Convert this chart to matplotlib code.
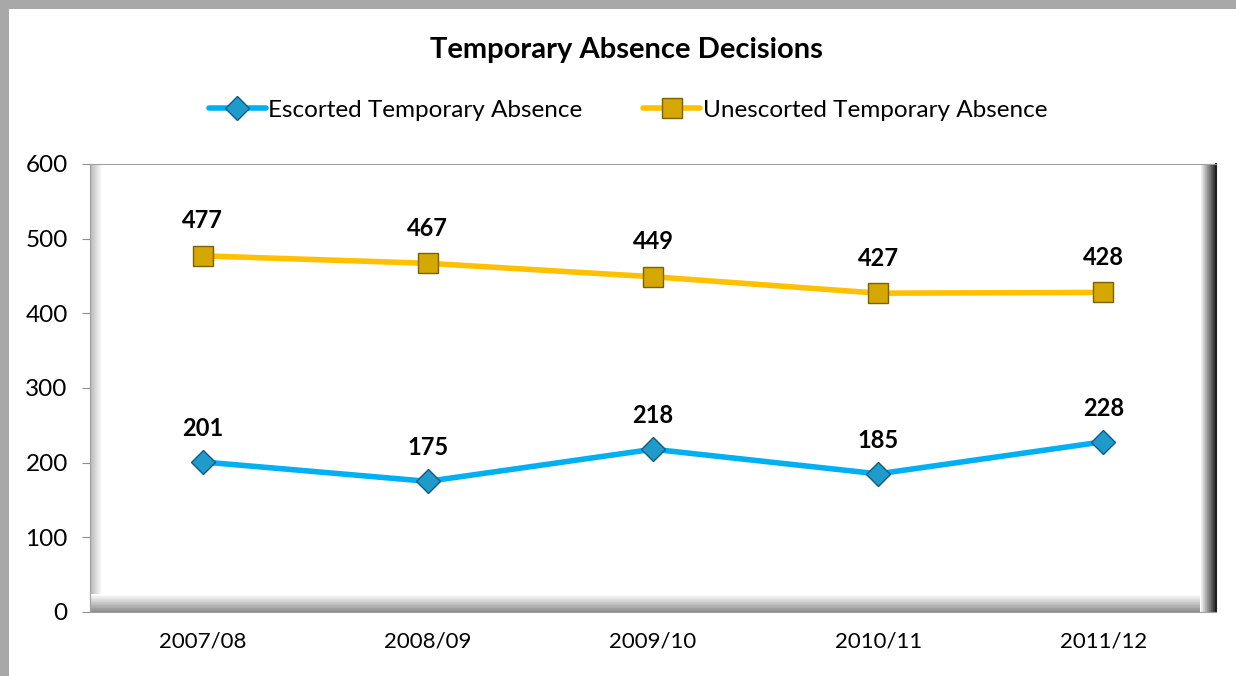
import numpy as np
import matplotlib
matplotlib.use('Agg')
import matplotlib.pyplot as plt
from matplotlib.patches import Rectangle

plt.rcParams['font.family'] = ['Lato', 'DejaVu Sans']

years = ['2007/08', '2008/09', '2009/10', '2010/11', '2011/12']
escorted = [201, 175, 218, 185, 228]
unescorted = [477, 467, 449, 427, 428]
y_ticks = [0, 100, 200, 300, 400, 500, 600]

W, H = 1236, 676


def px_box(left, top, right, bottom):
    # pixel box -> figure fraction [l, b, w, h]
    return [left / W, 1 - bottom / H, (right - left) / W, (bottom - top) / H]


def bevel(ax, x0, y0, x1, y1, c_from, c_to, horizontal=True, n=24):
    # strip of thin rectangles in axes coords, grey level c_from -> c_to
    for i in range(n):
        c = c_from + (c_to - c_from) * i / (n - 1)
        if horizontal:
            w = (x1 - x0) / n
            r = Rectangle((x0 + i * w, y0), w * 1.05, y1 - y0)
        else:
            h = (y1 - y0) / n
            r = Rectangle((x0, y0 + i * h), x1 - x0, h * 1.05)
        r.set_transform(ax.transAxes)
        r.set_facecolor((c, c, c))
        r.set_edgecolor('none')
        r.set_zorder(0.5)
        ax.add_patch(r)


fig = plt.figure(figsize=(W / 100, H / 100), dpi=100)
fig.patch.set_facecolor('white')

# outer chart frame (left and top)
fig.patches.append(Rectangle((0, 0), 9 / W, 1, transform=fig.transFigure,
                             facecolor='#A8A8A8', edgecolor='none'))
fig.patches.append(Rectangle((0, 1 - 9 / H), 1, 9 / H, transform=fig.transFigure,
                             facecolor='#A8A8A8', edgecolor='none'))

ax = fig.add_axes(px_box(90, 164, 1216, 612))
x = np.arange(len(years))

# bevel look of the plot area
bw = 1126
bh = 448
bevel(ax, 0, 0, 12 / bw, 1, 0.72, 1.0)
bevel(ax, 0, 0, 1, 18 / bh, 0.55, 1.0, horizontal=False)
bevel(ax, 1 - 16 / bw, 0, 1, 1, 1.0, 0.15)

ax.plot(x, escorted, color='#00B0F0', lw=4, marker='D', ms=12,
        mfc='#1F9ACB', mec='#0B5E80', mew=1, zorder=3,
        solid_capstyle='round', label='Escorted Temporary Absence')
ax.plot(x, unescorted, color='#FFC000', lw=4, marker='s', ms=15,
        mfc='#D4A800', mec='#7A6200', mew=1, zorder=3,
        solid_capstyle='round', label='Unescorted Temporary Absence')

for xi, v in zip(x, escorted):
    ax.annotate(str(v), (xi, v), xytext=(0, 16), textcoords='offset points',
                ha='center', va='bottom', fontsize=17, fontweight='bold')
for xi, v in zip(x, unescorted):
    ax.annotate(str(v), (xi, v), xytext=(0, 17), textcoords='offset points',
                ha='center', va='bottom', fontsize=17, fontweight='bold')

ax.set_xlim(-0.5, 4.5)
ax.set_ylim(0, 600)
ax.set_yticks(y_ticks)
ax.set_xticks(x)
ax.set_xticklabels(years)
ax.tick_params(axis='y', length=6, color='#909090', labelsize=17.5, pad=10)
ax.tick_params(axis='x', length=0, labelsize=16, pad=14)

for s in ['left', 'top', 'bottom']:
    ax.spines[s].set_color('#A0A0A0')
ax.spines['right'].set_color('#202020')
ax.spines['right'].set_linewidth(1.5)

fig.text(626 / W, 1 - 50 / H, 'Temporary Absence Decisions', ha='center',
         va='center', fontsize=21, fontweight='bold')
fig.legend(loc='center', bbox_to_anchor=(628 / W, 1 - 110 / H), ncol=2,
           frameon=False, fontsize=17.5, handlelength=2.35, columnspacing=2.5,
           handletextpad=0.1)

fig.savefig('out.png', dpi=100)
